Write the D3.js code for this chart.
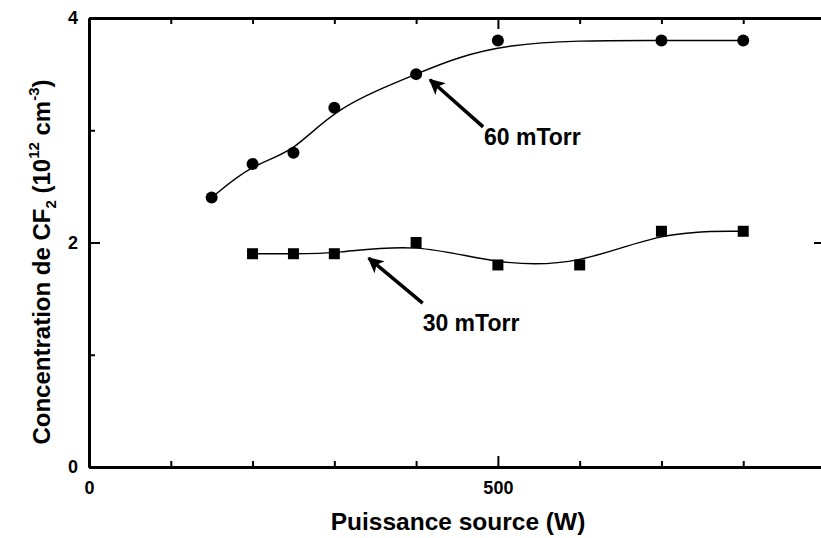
<!DOCTYPE html>
<html lang="fr">
<head>
<meta charset="UTF-8">
<title>Concentration de CF2</title>
<script src="https://d3js.org/d3.v7.min.js"></script>
<style>
  body { margin: 0; background: #fff; }
  svg { display: block; background: #fff; }
  text { font-family: "Liberation Sans", Arial, sans-serif; font-weight: bold; fill: #000; }
</style>
</head>
<body>
<svg width="821" height="538"></svg>
<script>
// données
const power60 = [150, 200, 250, 300, 400, 500, 700, 800];
const conc60  = [2.4, 2.7, 2.8, 3.2, 3.5, 3.8, 3.8, 3.8];
const power30 = [200, 250, 300, 400, 500, 600, 700, 800];
const conc30  = [1.9, 1.9, 1.9, 2.0, 1.8, 1.8, 2.1, 2.1];

const xMajor = [0, 500];
const xMinor = [100, 200, 300, 400, 600, 700, 800];
const yMajor = [0, 2, 4];
const yMinor = [1, 3];

// annotations: [tête de flèche, queue, texte] en unités des données
const notes = [
  { label: "60 mTorr", head: [417, 3.45], tail: [482, 3.03], text: [483, 2.87] },
  { label: "30 mTorr", head: [342, 1.86], tail: [408, 1.46], text: [408, 1.21] }
];

const svg = d3.select("svg");

const x = d3.scaleLinear().domain([0, 900]).range([89, 825]);
const y = d3.scaleLinear().domain([0, 4]).range([467, 18]);

const padLeft = 89, padRight = 825, padTop = 18, padBottom = 467;

// axes
function styleAxis(g) {
  g.selectAll("path.domain").attr("stroke", "#000").attr("stroke-width", 3);
  g.selectAll(".tick line").attr("stroke", "#000").attr("stroke-width", 2);
  g.selectAll("text").attr("font-size", 18).attr("font-family", "Liberation Sans, Arial, sans-serif")
    .attr("font-weight", "bold");
}

svg.append("g").attr("transform", `translate(0,${padBottom})`)
  .call(d3.axisBottom(x).tickValues(xMinor).tickSize(-6).tickSizeOuter(0).tickFormat(""))
  .call(styleAxis);
svg.append("g").attr("transform", `translate(0,${padBottom})`)
  .call(d3.axisBottom(x).tickValues(xMajor).tickSize(-11).tickSizeOuter(0).tickPadding(14).tickFormat(d3.format("d")))
  .call(styleAxis);

svg.append("g").attr("transform", `translate(0,${padTop})`)
  .call(d3.axisTop(x).tickValues(xMinor).tickSize(-6).tickSizeOuter(0).tickFormat(""))
  .call(styleAxis);
svg.append("g").attr("transform", `translate(0,${padTop})`)
  .call(d3.axisTop(x).tickValues(xMajor.filter(d => d > 0)).tickSize(-11).tickSizeOuter(0).tickFormat(""))
  .call(styleAxis);

svg.append("g").attr("transform", `translate(${padLeft},0)`)
  .call(d3.axisLeft(y).tickValues(yMinor).tickSize(-6).tickSizeOuter(0).tickFormat(""))
  .call(styleAxis);
svg.append("g").attr("transform", `translate(${padLeft},0)`)
  .call(d3.axisLeft(y).tickValues(yMajor).tickSize(-11).tickSizeOuter(0).tickPadding(11).tickFormat(d3.format("d")))
  .call(styleAxis);

svg.append("g").attr("transform", `translate(${padRight},0)`)
  .call(d3.axisRight(y).tickValues(yMajor.filter(d => d > 0 && d < 4)).tickSize(-11).tickSizeOuter(0).tickFormat(""))
  .call(styleAxis);

// courbes lissées
const line = d3.line().x(d => x(d[0])).y(d => y(d[1])).curve(d3.curveBasis);
const pts60 = power60.map((p, i) => [p, conc60[i]]);
const pts30 = power30.map((p, i) => [p, conc30[i]]);

svg.append("path").datum(pts60).attr("d", line)
  .attr("fill", "none").attr("stroke", "#000").attr("stroke-width", 1.4);
svg.append("path").datum(pts30).attr("d", line)
  .attr("fill", "none").attr("stroke", "#000").attr("stroke-width", 1.4);

svg.selectAll("circle.p60").data(pts60).enter().append("circle")
  .attr("class", "p60")
  .attr("cx", d => x(d[0])).attr("cy", d => y(d[1])).attr("r", 6)
  .attr("fill", "#000");

svg.selectAll("rect.p30").data(pts30).enter().append("rect")
  .attr("class", "p30")
  .attr("x", d => x(d[0]) - 5.5).attr("y", d => y(d[1]) - 5.5)
  .attr("width", 11).attr("height", 11)
  .attr("fill", "#000");

// flèches
svg.append("defs").append("marker")
  .attr("id", "head").attr("viewBox", "0 0 10 10")
  .attr("refX", 9).attr("refY", 5)
  .attr("markerWidth", 5).attr("markerHeight", 4.5)
  .attr("markerUnits", "strokeWidth")
  .attr("orient", "auto")
  .append("path").attr("d", "M0,0 L10,5 L0,10 L2.5,5 Z").attr("fill", "#000");

notes.forEach(n => {
  svg.append("line")
    .attr("x1", x(n.tail[0])).attr("y1", y(n.tail[1]))
    .attr("x2", x(n.head[0])).attr("y2", y(n.head[1]))
    .attr("stroke", "#000").attr("stroke-width", 3.5)
    .attr("marker-end", "url(#head)");
  svg.append("text")
    .attr("x", x(n.text[0])).attr("y", y(n.text[1]))
    .attr("font-size", 23)
    .text(n.label);
});

// titres des axes
svg.append("text")
  .attr("x", 458).attr("y", 530)
  .attr("text-anchor", "middle")
  .attr("font-size", 24.5)
  .text("Puissance source (W)");

const yt = svg.append("text")
  .attr("transform", "translate(50,262) rotate(-90)")
  .attr("text-anchor", "middle")
  .attr("font-size", 24);
yt.append("tspan").text("Concentration de CF");
yt.append("tspan").attr("font-size", 15).attr("dy", 6).text("2");
yt.append("tspan").attr("dy", -6).text(" (10");
yt.append("tspan").attr("font-size", 15).attr("dy", -11).text("12");
yt.append("tspan").attr("dy", 11).text(" cm");
yt.append("tspan").attr("font-size", 15).attr("dy", -11).text("-3");
yt.append("tspan").attr("dy", 11).text(")");
</script>
</body>
</html>
